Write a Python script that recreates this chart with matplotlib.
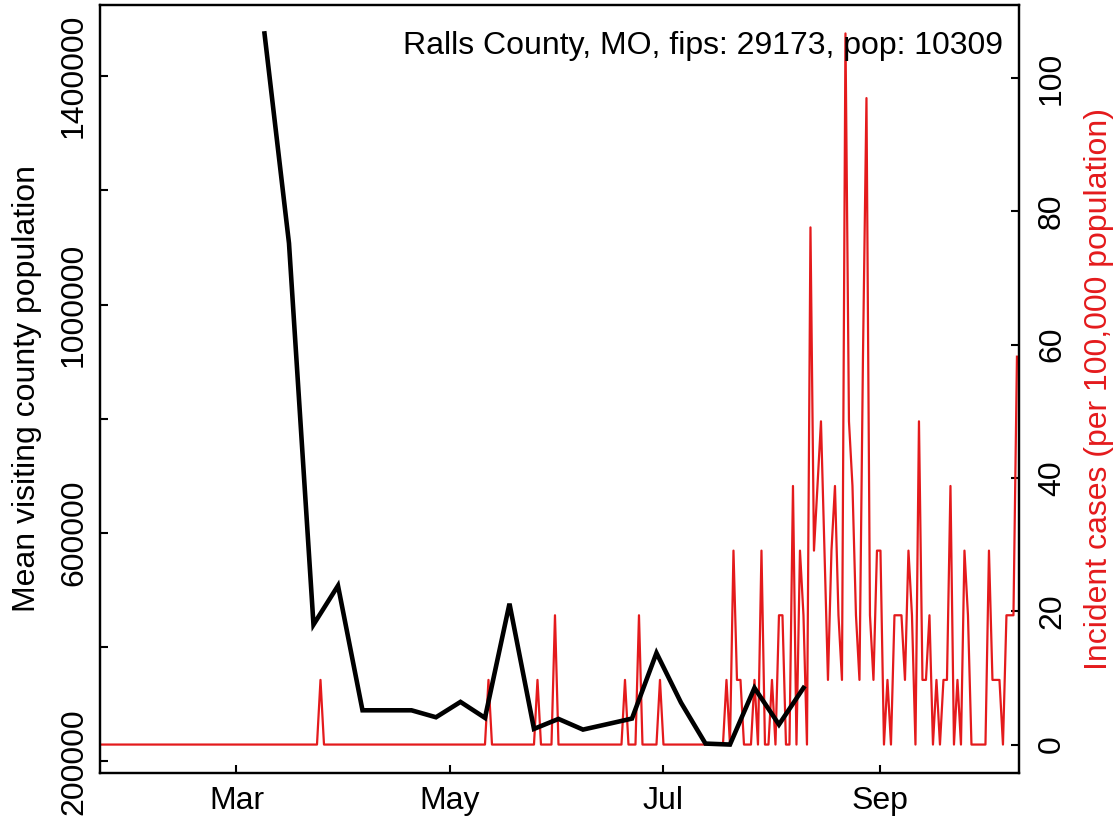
import matplotlib
matplotlib.use("Agg")
import matplotlib.pyplot as plt
import matplotlib.dates as mdates
import numpy as np
import pandas as pd

plt.rcParams['font.family'] = ['Liberation Sans', 'DejaVu Sans']

# ---------------- data ----------------
title_text = "Ralls County, MO, fips: 29173, pop: 10309"
left_label = "Mean visiting county population"
right_label = "Incident cases (per 100,000 population)"

# weekly mean visiting county population (black line)
visit_start = "2020-03-09"
visit_values = [1474700, 1107300, 439400, 507600, 289400, 289400, 289400,
                277200, 304100, 276100, 476100, 256800, 274300, 255600,
                265200, 274900, 389800, 302900, 231100, 229400, 328600,
                264400, 328600]

# daily incident cases per 100,000 (red line), 2020-01-22 .. 2020-10-10
case_start = "2020-01-22"
case_values = [
    # Jan 22 - Feb 29
    0, 0, 0, 0, 0, 0, 0, 0, 0, 0,
    0, 0, 0, 0, 0, 0, 0, 0, 0, 0, 0, 0, 0, 0, 0, 0, 0, 0, 0,
    0, 0, 0, 0, 0, 0, 0, 0, 0, 0,
    # March
    0, 0, 0, 0, 0, 0, 0, 0, 0, 0, 0, 0, 0, 0, 0, 0, 0, 0, 0, 0,
    0, 0, 0, 0, 9.7, 0, 0, 0, 0, 0, 0,
    # April
    0, 0, 0, 0, 0, 0, 0, 0, 0, 0, 0, 0, 0, 0, 0, 0, 0, 0, 0, 0,
    0, 0, 0, 0, 0, 0, 0, 0, 0, 0,
    # May
    0, 0, 0, 0, 0, 0, 0, 0, 0, 0, 0, 9.7, 0, 0, 0, 0, 0, 0, 0, 0,
    0, 0, 0, 0, 0, 9.7, 0, 0, 0, 0, 19.4,
    # June
    0, 0, 0, 0, 0, 0, 0, 0, 0, 0, 0, 0, 0, 0, 0, 0, 0, 0, 0, 9.7,
    0, 0, 0, 19.4, 0, 0, 0, 0, 0, 9.7,
    # July
    0, 0, 0, 0, 0, 0, 0, 0, 0, 0, 0, 0, 0, 0, 0, 0, 0, 0, 9.7, 0,
    29.1, 9.7, 9.7, 0, 0, 0, 9.7, 0, 29.1, 0, 0,
    # August
    9.7, 0, 19.4, 19.4, 0, 0, 38.8, 0, 29.1, 19.4, 0, 77.6, 29.1, 38.8,
    48.5, 29.1, 9.7, 29.1, 38.8, 19.4, 9.7, 106.7, 48.5, 38.8, 19.4,
    9.7, 58.2, 97.0, 19.4, 9.7, 29.1,
    # September
    29.1, 0, 9.7, 0, 19.4, 19.4, 19.4, 9.7, 29.1, 19.4, 0, 48.5, 9.7,
    9.7, 19.4, 0, 9.7, 0, 9.7, 9.7, 38.8, 0, 9.7, 0, 29.1, 19.4, 0, 0,
    0, 0,
    # October 1 - 10
    0, 29.1, 9.7, 9.7, 9.7, 0, 19.4, 19.4, 19.4, 58.2,
]

xtick_dates = ["2020-03-01", "2020-05-01", "2020-07-01", "2020-09-01"]
xtick_labels = ["Mar", "May", "Jul", "Sep"]
left_ticks = [200000, 400000, 600000, 800000, 1000000, 1200000, 1400000]
left_ticklabels = ["200000", "", "600000", "", "1000000", "", "1400000"]
right_ticks = [0, 20, 40, 60, 80, 100]

RED = "#E41A1C"

visit_dates = pd.date_range(visit_start, periods=len(visit_values), freq="7D")
case_dates = pd.date_range(case_start, periods=len(case_values), freq="D")

# ---------------- figure ----------------
W, H = 1119, 822
FS = 23
fig = plt.figure(figsize=(W / 100, H / 100), dpi=100)
ax = fig.add_axes([100 / W, 49 / H, 919 / W, 768 / H])
ax2 = ax.twinx()

ax2.plot(case_dates, case_values, color=RED, lw=1.6, zorder=2)
ax.plot(visit_dates, visit_values, color="black", lw=3.3, zorder=3,
        solid_joinstyle="miter")
ax.set_zorder(ax2.get_zorder() + 1)
ax.patch.set_visible(False)

ax.margins(y=0.04)
ax2.margins(y=0.04)
ax.set_xlim(case_dates[0], case_dates[-1] + pd.Timedelta(hours=14))

ax.set_xticks(pd.to_datetime(xtick_dates))
ax.set_xticklabels(xtick_labels)
ax.set_yticks(left_ticks)
ax.set_yticklabels(left_ticklabels, rotation=90, va="center")
ax2.set_yticks(right_ticks)
ax2.set_yticklabels([str(t) for t in right_ticks], rotation=90, va="center")

for a in (ax, ax2):
    for s in a.spines.values():
        s.set_linewidth(1.6)
    a.tick_params(direction="in", length=6, width=1.5, labelsize=FS)
ax.tick_params(axis="x", pad=9)
ax.tick_params(axis="y", pad=8)
ax2.tick_params(axis="y", pad=13)

fig.text(1003 / W, 1 - 46 / H, title_text, ha="right", va="center",
         fontsize=FS)
fig.text(27 / W, 1 - 389 / H, left_label, rotation=90, ha="center",
         va="center", fontsize=FS)
fig.text(1099 / W, 1 - 389 / H, right_label, rotation=90, ha="center",
         va="center", fontsize=FS, color=RED)

fig.savefig("out.png", dpi=100)
